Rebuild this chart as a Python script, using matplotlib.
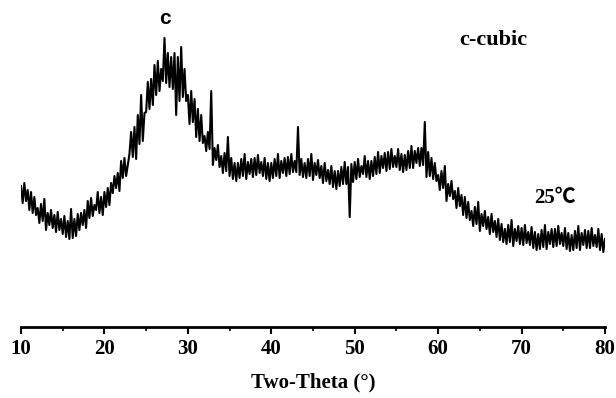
import numpy as np
import matplotlib
matplotlib.use("Agg")
import matplotlib.pyplot as plt
from matplotlib.ticker import MultipleLocator

# scan 10-80 deg, 0.2 deg step; intensity in arbitrary units
two_theta = np.linspace(10, 80, 351)
intensity = [
    141, 124, 144, 126, 137,  # 10
    117, 135, 114, 130, 112,  # 11
    119, 104, 123, 106, 128,  # 12
    97, 114, 102, 117, 99,    # 13
    112, 95, 115, 97, 108,    # 14
    93, 111, 90, 106, 88,     # 15
    118, 89, 108, 91, 113,    # 16
    97, 114, 102, 117, 99,    # 17
    126, 109, 129, 111, 122,  # 18
    117, 135, 114, 130, 112,  # 19
    135, 120, 139, 122, 144,  # 20
    134, 151, 139, 154, 136,  # 21
    166, 149, 169, 151, 162,  # 22
    173, 195, 170, 200, 168,  # 23
    212, 183, 232, 186, 214,  # 24
    215, 245, 218, 248, 222,  # 25
    262, 232, 266, 236, 258,  # 26
    246, 289, 244, 274, 240,  # 27
    270, 238, 274, 212, 270,  # 28
    226, 280, 230, 258, 226,  # 29
    232, 203, 236, 205, 228,  # 30
    190, 218, 186, 212, 184,  # 31
    191, 176, 195, 178, 236,  # 32
    162, 179, 167, 182, 160,  # 33
    171, 154, 174, 156, 190,  # 34
    151, 169, 148, 164, 146,  # 35
    164, 149, 168, 151, 173,  # 36
    148, 165, 153, 168, 150,  # 37
    169, 152, 172, 154, 165,  # 38
    151, 169, 148, 164, 146,  # 39
    164, 149, 168, 151, 173,  # 40
    149, 166, 154, 169, 151,  # 41
    170, 153, 173, 155, 166,  # 42
    155, 200, 152, 168, 150,  # 43
    164, 149, 168, 151, 173,  # 44
    147, 164, 152, 167, 149,  # 45
    161, 144, 164, 146, 157,  # 46
    143, 161, 140, 156, 138,  # 47
    156, 141, 160, 143, 165,  # 48
    143, 160, 110, 163, 145,  # 49
    165, 148, 168, 150, 161,  # 50
    153, 171, 150, 166, 148,  # 51
    166, 151, 170, 153, 175,  # 52
    154, 171, 159, 174, 156,  # 53
    175, 158, 178, 160, 171,  # 54
    160, 178, 157, 173, 155,  # 55
    172, 157, 176, 159, 181,  # 56
    159, 176, 164, 179, 161,  # 57
    179, 162, 205, 150, 175,  # 58
    151, 169, 148, 164, 146,  # 59
    152, 137, 156, 139, 161,  # 60
    126, 143, 131, 146, 128,  # 61
    136, 119, 139, 121, 132,  # 62
    112, 130, 109, 125, 107,  # 63
    116, 101, 120, 103, 125,  # 64
    96, 113, 101, 116, 98,    # 65
    110, 93, 113, 95, 106,    # 66
    90, 108, 87, 103, 85,     # 67
    98, 83, 102, 85, 107,     # 68
    81, 98, 86, 101, 83,      # 69
    99, 82, 102, 84, 95,      # 70
    82, 100, 79, 95, 77,      # 71
    93, 78, 97, 80, 102,      # 72
    78, 95, 83, 98, 80,       # 73
    98, 81, 101, 83, 94,      # 74
    81, 99, 78, 94, 76,       # 75
    92, 77, 96, 79, 101,      # 76
    77, 94, 82, 97, 79,       # 77
    96, 79, 99, 81, 92,       # 78
    80, 98, 77, 93, 75,       # 79
    88,                       # 80
]

serif = ["Liberation Serif", "DejaVu Serif"]

fig = plt.figure(figsize=(6.16, 3.98), dpi=100)
ax = fig.add_axes([21 / 616, 71 / 398, 584 / 616, 327 / 398])

ax.plot(two_theta, intensity, color="black", linewidth=1.5)

ax.set_xlim(10, 80)
ax.set_ylim(0, 327)
for side in ["left", "top", "right"]:
    ax.spines[side].set_visible(False)
ax.spines["bottom"].set_linewidth(2.0)
ax.set_yticks([])

ax.xaxis.set_major_locator(MultipleLocator(10))
ax.xaxis.set_minor_locator(MultipleLocator(5))
ax.tick_params(axis="x", which="major", direction="out", length=5, width=1.5, pad=4)
ax.tick_params(axis="x", which="minor", direction="out", length=3, width=1.2)
for lbl in ax.get_xticklabels():
    lbl.set_family(serif)
    lbl.set_fontweight("bold")
    lbl.set_fontsize(15)

ax.set_xlabel("Two-Theta (°)", family=serif, fontweight="bold", fontsize=15, labelpad=9)

ax.text(27.2, 309, "c", family="Liberation Sans", fontweight="bold", fontsize=15,
        ha="center", va="center")
ax.text(66.6, 287, "c-cubic", family=serif, fontweight="bold", fontsize=16,
        ha="center", va="center")
ax.text(74.0, 129, "25℃", family=["Liberation Serif", "Noto Sans CJK SC", "DejaVu Sans"],
        fontweight="bold", fontsize=15, ha="center", va="center")

fig.savefig("out.png", dpi=100)
